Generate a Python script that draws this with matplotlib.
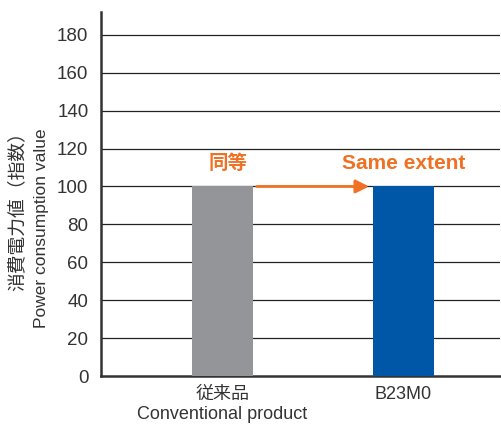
import matplotlib.pyplot as plt

plt.rcParams['font.family'] = ['Liberation Sans', 'Noto Sans CJK JP']

# data
categories = ['従来品\nConventional product', 'B23M0']
values = [100, 100.5]
bar_colors = ['#939598', '#0057a8']
y_ticks = [0, 20, 40, 60, 80, 100, 120, 140, 160, 180]
note_jp = '同等'
note_en = 'Same extent'

text_color = '#333333'
orange = '#f07124'

fig = plt.figure(figsize=(5.02, 4.26), dpi=100)
ax = fig.add_axes([0.201, 0.117, 0.795, 0.855])

x = list(range(len(categories)))
ax.bar(x, values, width=0.337, color=bar_colors, zorder=3)

ax.set_xlim(-0.671, 1.533)
ax.set_ylim(0, 192)
ax.set_yticks(y_ticks)
ax.set_xticks(x)
ax.set_xticklabels(categories, fontsize=13, color=text_color, linespacing=1.25)
ax.tick_params(axis='y', length=0, pad=9, labelsize=13.5, labelcolor=text_color)
ax.tick_params(axis='x', length=0, pad=7)

for t in y_ticks[1:]:
    ax.axhline(t, color='#222222', lw=0.9, zorder=1)

for s in ['top', 'right']:
    ax.spines[s].set_visible(False)
for s in ['left', 'bottom']:
    ax.spines[s].set_linewidth(1.8)
    ax.spines[s].set_color('#333333')

# arrow + notes
ax.annotate('', xy=(x[1] - 0.19, values[0]), xytext=(x[0] + 0.19, values[0]),
            arrowprops=dict(arrowstyle='-|>', color=orange, lw=2.0,
                            mutation_scale=20, shrinkA=0, shrinkB=0), zorder=4)
ax.text(x[0] + 0.03, 112, note_jp, color=orange, fontsize=14, fontweight='bold',
        ha='center', va='center')
ax.text(x[1], 112, note_en, color=orange, fontsize=15, fontweight='bold',
        ha='center', va='center')

fig.text(18 / 502, 1 - 207 / 426, '消費電力値（指数）', rotation=90, fontsize=13.5,
         color=text_color, ha='center', va='center')
fig.text(42 / 502, 1 - 228 / 426, 'Power consumption value', rotation=90,
         fontsize=12.5, color=text_color, ha='center', va='center')

fig.savefig('out.png', dpi=100)
